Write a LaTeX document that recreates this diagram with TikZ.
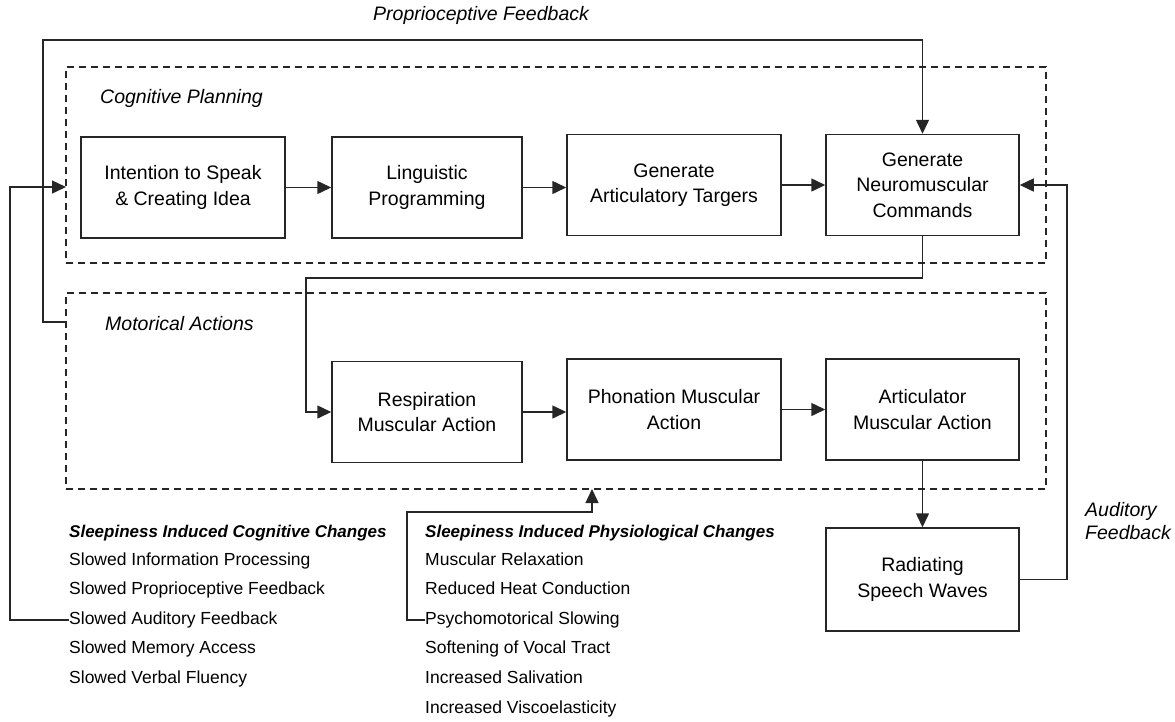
\documentclass[tikz,border=0pt]{standalone}
\usepackage{fontspec}
\setmainfont{Liberation Sans}
\usetikzlibrary{arrows.meta}
\begin{document}
\begin{tikzpicture}[x=1pt,y=-1pt,
 box/.style={draw=black!85, line width=1.5pt, align=center, inner sep=2pt, font=\fontsize{19.5}{25.5}\selectfont, minimum height=101pt},
 dbox/.style={draw=black!85, line width=1.4pt, dash pattern=on 7pt off 5pt, inner sep=0pt},
 conn/.style={draw=black!85, line width=1.5pt},
 arr/.style={conn, -{Triangle[length=14pt,width=13pt]}},
 lbl/.style={font=\fontsize{19.5}{23}\selectfont\itshape, inner sep=0pt, anchor=west, align=left},
 item/.style={font=\fontsize{17.5}{21}\selectfont, inner sep=0pt, anchor=west, text height=12.5pt, text depth=3.7pt},
 head/.style={font=\fontsize{17}{21}\selectfont\bfseries\itshape, inner sep=0pt, anchor=west, text height=12.5pt, text depth=3.7pt},
]
\useasboundingbox (0,0) rectangle (1175,721);

% dashed group boxes
\node[dbox, minimum width=980pt, minimum height=196pt] (cp) at (556,165) {};
\node[dbox, minimum width=980pt, minimum height=196pt] (mp) at (556,391) {};

% labels
\node[lbl] (lpf) at (373,15) {Proprioceptive Feedback};
\node[lbl] (lcp) at (100,98) {Cognitive Planning};
\node[lbl] (lma) at (105,324) {Motorical Actions};
\node[lbl] (laf) at (1085,521.5) {Auditory\\Feedback};

% top row
\node[box, minimum width=204pt] (b1) at (183,187.5) {Intention to Speak\\\& Creating Idea};
\node[box, minimum width=190pt] (b2) at (427,187.5) {Linguistic\\Programming};
\node[box, minimum width=214pt] (b3) at (674,185) {Generate\\Articulatory Targers};
\node[box, minimum width=193pt] (b4) at (922.5,185) {Generate\\Neuromuscular\\Commands};

% bottom row
\node[box, minimum width=190pt] (b5) at (427,412) {Respiration\\Muscular Action};
\node[box, minimum width=214pt] (b6) at (674,409.5) {Phonation Muscular\\Action};
\node[box, minimum width=193pt] (b7) at (922.5,409.5) {Articulator\\Muscular Action};
\node[box, minimum width=193pt, minimum height=103pt] (b8) at (922.5,579.5) {Radiating\\Speech Waves};

% lists
\node[head] (lh) at (69,533) {Sleepiness Induced Cognitive Changes};
\node[item] (l1) at (69,561) {Slowed Information Processing};
\node[item] (l2) at (69,590) {Slowed Proprioceptive Feedback};
\node[item] (l3) at (69,620) {Slowed Auditory Feedback};
\node[item] (l4) at (69,649) {Slowed Memory Access};
\node[item] (l5) at (69,679) {Slowed Verbal Fluency};

\node[head] (rh) at (425,533) {Sleepiness Induced Physiological Changes};
\node[item] (r1) at (425,561) {Muscular Relaxation};
\node[item] (r2) at (425,590) {Reduced Heat Conduction};
\node[item] (r3) at (425,620) {Psychomotorical Slowing};
\node[item] (r4) at (425,649) {Softening of Vocal Tract};
\node[item] (r5) at (425,679) {Increased Salivation};
\node[item] (r6) at (425,709) {Increased Viscoelasticity};

% helper coordinates
\coordinate (pfs) at (66,322);
\coordinate (pfc) at (43,40);
\coordinate (nmc) at (306,278);
\coordinate (afc) at (1067,185);
\coordinate (lac) at (10,187);
\coordinate (lat) at (66,187);
\coordinate (phc) at (407,512);
\coordinate (pht) at (592,489);

% connectors
\draw[arr] (b1.east) -- (b1.east -| b2.west);
\draw[arr] (b2.east) -- (b2.east -| b3.west);
\draw[arr] (b3.east) -- (b3.east -| b4.west);
\draw[arr] (b5.east) -- (b5.east -| b6.west);
\draw[arr] (b6.east) -- (b6.east -| b7.west);
\draw[arr] (b7.south) -- (b8.north);
\draw[arr] (b4.south) |- (nmc) |- (b5.west);
\draw[arr] (pfs) -| (pfc) -| (b4.north);
\draw[arr] (b8.east) -| (afc) -- (b4.east);
\draw[arr] (l3.west) -| (lac) -- (lat);
\draw[arr] (r3.west) -| (phc) -| (pht);
\end{tikzpicture}
\end{document}
